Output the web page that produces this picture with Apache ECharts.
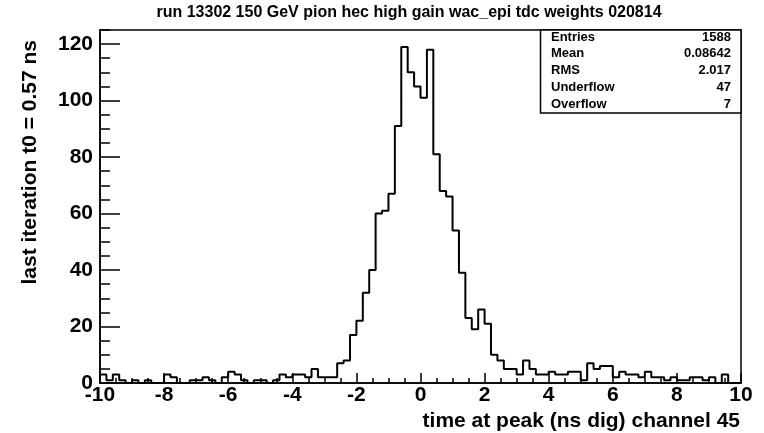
<!DOCTYPE html>
<html>
<head>
<meta charset="utf-8">
<script src="https://cdn.jsdelivr.net/npm/echarts@6/dist/echarts.min.js"></script>
<style>
html,body{margin:0;padding:0;background:#fff;}
#chart{width:764px;height:433px;}
</style>
</head>
<body>
<div id="chart"></div>
<script>
// Histogram definition: 100 bins from -10 to 10
var binLow = -10;
var binWidth = 0.2;
var counts = [
  3, 1, 3, 1, 0, 1, 0, 1, 0, 0,
  3, 2, 0, 0, 1, 1, 2, 1, 0, 2,
  4, 3, 1, 0, 1, 1, 0, 1, 3, 2,
  3, 3, 2, 5, 2, 2, 2, 7, 8, 17,
  22, 32, 40, 60, 61, 67, 91, 119, 110, 105,
  101, 118, 81, 68, 66, 54, 39, 23, 19, 26,
  21, 10, 8, 5, 5, 3, 8, 5, 3, 3,
  4, 3, 3, 4, 4, 1, 7, 5, 6, 6,
  2, 4, 3, 3, 2, 4, 2, 2, 1, 2,
  1, 1, 2, 2, 1, 2, 0, 3, 0, 0
];
var chartTitle = 'run 13302 150 GeV pion hec high gain wac_epi tdc weights 020814';
var xTitle = 'time at peak (ns dig) channel 45';
var yTitle = 'last iteration t0 = 0.57 ns';
var statLabels = ['Entries', 'Mean', 'RMS', 'Underflow', 'Overflow'];
var statValues = ['1588', '0.08642', '2.017', '47', '7'];

var stepData = [];
for (var k = 0; k < counts.length; k++) {
  stepData.push([binLow + k * binWidth, counts[k]]);
}
stepData.push([binLow + counts.length * binWidth, counts[counts.length - 1]]);

var FONT = '"Liberation Sans", Arial, Helvetica, sans-serif';
var gridL = 100, gridT = 30, gridR = 23, gridB = 50;
var W = 764;

var graphics = [
  { type: 'text', x: 409, y: 13, style: { text: chartTitle, font: 'bold 16px ' + FONT, fill: '#000', align: 'center', verticalAlign: 'middle' } },
  { type: 'text', x: 740, y: 421, style: { text: xTitle, font: 'bold 21px ' + FONT, fill: '#000', align: 'right', verticalAlign: 'middle' } },
  { type: 'text', x: 30, y: 40, rotation: Math.PI / 2, style: { text: yTitle, font: 'bold 21px ' + FONT, fill: '#000', align: 'right', verticalAlign: 'middle' } },
  { type: 'rect', shape: { x: 540.5, y: 30, width: W - gridR - 540.5, height: 83 }, style: { fill: '#fff', stroke: '#000', lineWidth: 1.5 }, z: 10 }
];
for (var i = 0; i < statLabels.length; i++) {
  var yy = 37 + i * 16.8;
  graphics.push({ type: 'text', x: 551, y: yy, z: 11, style: { text: statLabels[i], font: 'bold 13px ' + FONT, fill: '#000', align: 'left', verticalAlign: 'middle' } });
  graphics.push({ type: 'text', x: 731, y: yy, z: 11, style: { text: statValues[i], font: 'bold 13px ' + FONT, fill: '#000', align: 'right', verticalAlign: 'middle' } });
}

var chart = echarts.init(document.getElementById('chart'), null, { renderer: 'canvas' });
chart.setOption({
  animation: false,
  backgroundColor: '#fff',
  grid: { left: gridL, right: gridR, top: gridT, bottom: gridB, show: true, borderColor: '#000', borderWidth: 1.5, backgroundColor: 'transparent', containLabel: false, outerBoundsMode: 'none' },
  xAxis: {
    type: 'value', min: -10, max: 10, interval: 2,
    axisLine: { show: true, onZero: false, lineStyle: { color: '#000', width: 1.5 } },
    axisTick: { show: true, inside: true, length: 10, lineStyle: { color: '#000', width: 1.5 } },
    minorTick: { show: true, splitNumber: 4, length: 5, lineStyle: { color: '#000', width: 1.5 } },
    splitLine: { show: false },
    axisLabel: { color: '#000', fontFamily: FONT, fontWeight: 'bold', fontSize: 21, margin: 2 }
  },
  yAxis: [{
    type: 'value', min: 0, max: 125, interval: 20, position: 'left',
    axisLine: { show: true, onZero: false, lineStyle: { color: '#000', width: 1.5 } },
    axisTick: { show: true, inside: true, length: 20, lineStyle: { color: '#000', width: 1.5 } },
    splitLine: { show: false },
    axisLabel: { color: '#000', fontFamily: FONT, fontWeight: 'bold', fontSize: 21, margin: 7, showMaxLabel: false,
      formatter: function (v) { return v % 20 === 0 ? String(v) : ''; } }
  }, {
    type: 'value', min: 0, max: 125, interval: 5, position: 'left', offset: 0,
    axisLine: { show: false, onZero: false },
    axisTick: { show: true, inside: true, length: 10, lineStyle: { color: '#000', width: 1.5 } },
    splitLine: { show: false },
    axisLabel: { show: false }
  }],
  series: [{
    type: 'line', step: 'end', data: stepData, yAxisIndex: 0,
    showSymbol: false, symbol: 'none', clip: true,
    lineStyle: { color: '#000', width: 2 }
  }],
  graphic: graphics
});
</script>
</body>
</html>
